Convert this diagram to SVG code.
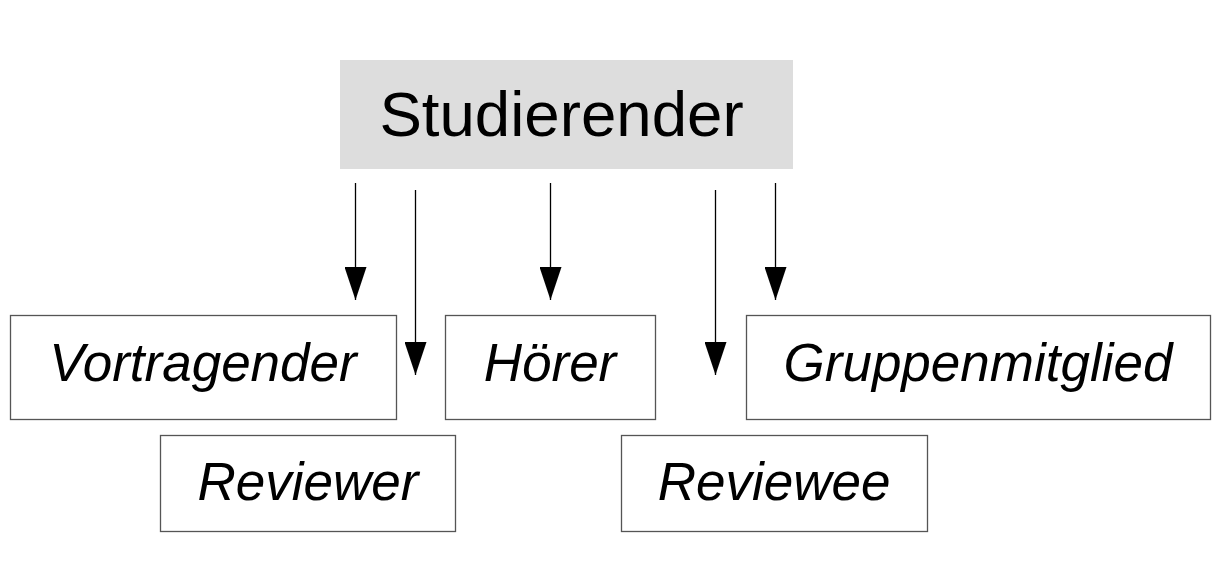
<svg xmlns="http://www.w3.org/2000/svg" width="1227" height="565" viewBox="0 0 1227 565">
<defs>
<style>
.box{fill:#fff;stroke:#555;stroke-width:1.3}
.lbl{font-family:"Liberation Sans",Arial,sans-serif;font-style:italic;font-size:53px;fill:#000;text-anchor:middle}
.conn line{stroke:#000;stroke-width:1.3}
</style>
<marker id="ah" markerUnits="userSpaceOnUse" markerWidth="34" markerHeight="22" refX="33" refY="11" orient="auto" viewBox="0 0 34 22">
<path d="M0,0 L33,11 L0,22 Z" fill="#000"/>
</marker>
</defs>
<rect width="1227" height="565" fill="#fff"/>
<g id="studierender">
<rect x="340" y="60" width="453" height="109" fill="#dddddd"/>
<text x="561.5" y="136" font-family="'Liberation Sans',Arial,sans-serif" font-size="63.6" text-anchor="middle" fill="#000">Studierender</text>
</g>
<g id="vortragender">
<rect class="box" x="10.5" y="315.5" width="386" height="104"/>
<text class="lbl" x="203" y="381">Vortragender</text>
</g>
<g id="hoerer">
<rect class="box" x="445.5" y="315.5" width="210" height="104"/>
<text class="lbl" x="550" y="381">Hörer</text>
</g>
<g id="gruppenmitglied">
<rect class="box" x="746.5" y="315.5" width="464" height="104"/>
<text class="lbl" x="978" y="381">Gruppenmitglied</text>
</g>
<g id="reviewer">
<rect class="box" x="160.5" y="435.5" width="295" height="96"/>
<text class="lbl" x="308" y="500">Reviewer</text>
</g>
<g id="reviewee">
<rect class="box" x="621.5" y="435.5" width="306" height="96"/>
<text class="lbl" x="774" y="500">Reviewee</text>
</g>
<g id="connectors" class="conn">
<line x1="355.5" y1="183" x2="355.5" y2="300" marker-end="url(#ah)"/>
<line x1="415.5" y1="190" x2="415.5" y2="375" marker-end="url(#ah)"/>
<line x1="550.5" y1="183" x2="550.5" y2="300" marker-end="url(#ah)"/>
<line x1="715.5" y1="190" x2="715.5" y2="375" marker-end="url(#ah)"/>
<line x1="775.5" y1="183" x2="775.5" y2="300" marker-end="url(#ah)"/>
</g>
</svg>
